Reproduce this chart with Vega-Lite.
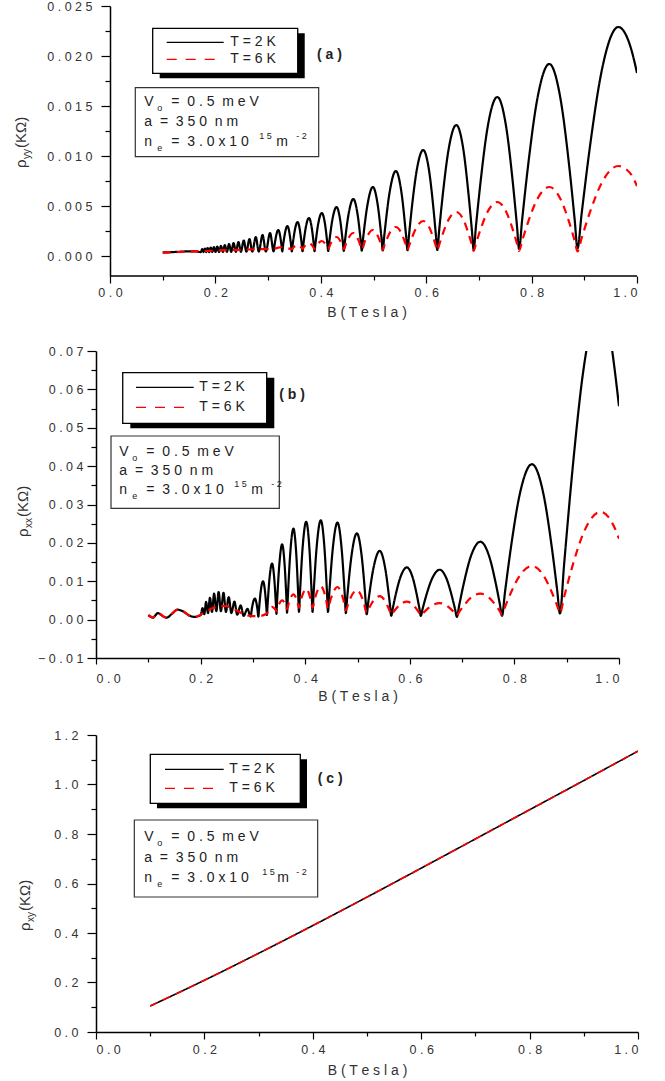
{
"$schema": "https://vega.github.io/schema/vega-lite/v6.json",
"padding": {"left": 13, "top": 0, "right": 4, "bottom": 0},
"spacing": 25,
"config": {
  "font": "Liberation Sans",
  "view": {"stroke": null},
  "axis": {"grid": false, "labelOverlap": false, "tickCount": 50, "domainColor": "#000", "domainWidth": 1.5, "tickColor": "#000", "tickWidth": 1.2, "labelFont": "Liberation Sans", "labelFontSize": 12.5, "labelColor": "#333", "titleFont": "Liberation Sans", "titleFontSize": 14, "titleFontWeight": "normal", "titleColor": "#333"},
  "text": {"font": "Liberation Sans", "color": "#222"}
},
"datasets": {
"a": [
{"T":"2K","B":0.1000,"r":0.00035},{"T":"2K","B":0.1150,"r":0.00038},{"T":"2K","B":0.1300,"r":0.00042},{"T":"2K","B":0.1450,"r":0.00046},{"T":"2K","B":0.1600,"r":0.00047},
{"T":"2K","B":0.1725,"r":0.00039},{"T":"2K","B":0.1749,"r":0.00070},{"T":"2K","B":0.1774,"r":0.00039},{"T":"2K","B":0.1799,"r":0.00075},{"T":"2K","B":0.1826,"r":0.00039},{"T":"2K","B":0.1853,"r":0.00080},{"T":"2K","B":0.1882,"r":0.00039},{"T":"2K","B":0.1911,"r":0.00085},{"T":"2K","B":0.1941,"r":0.00040},{"T":"2K","B":0.1972,"r":0.00090},{"T":"2K","B":0.2003,"r":0.00040},{"T":"2K","B":0.2036,"r":0.00095},{"T":"2K","B":0.2070,"r":0.00040},{"T":"2K","B":0.2105,"r":0.00102},{"T":"2K","B":0.2141,"r":0.00041},{"T":"2K","B":0.2179,"r":0.00110},{"T":"2K","B":0.2218,"r":0.00041},{"T":"2K","B":0.2259,"r":0.00120},{"T":"2K","B":0.2300,"r":0.00042},{"T":"2K","B":0.2345,"r":0.00130},{"T":"2K","B":0.2388,"r":0.00042},{"T":"2K","B":0.2438,"r":0.00140},{"T":"2K","B":0.2484,"r":0.00042},{"T":"2K","B":0.2538,"r":0.00155},{"T":"2K","B":0.2588,"r":0.00043},{"T":"2K","B":0.2647,"r":0.00170},{"T":"2K","B":0.2700,"r":0.00044},{"T":"2K","B":0.2766,"r":0.00190},{"T":"2K","B":0.2823,"r":0.00044},{"T":"2K","B":0.2895,"r":0.00210},{"T":"2K","B":0.2957,"r":0.00045},{"T":"2K","B":0.3037,"r":0.00230},{"T":"2K","B":0.3105,"r":0.00046},
{"T":"2K","B":0.3123,"r":0.00112},{"T":"2K","B":0.3193,"r":0.0026},{"T":"2K","B":0.3253,"r":0.00112},{"T":"2K","B":0.3268,"r":0.00046},
{"T":"2K","B":0.3288,"r":0.00124},{"T":"2K","B":0.3366,"r":0.0030},{"T":"2K","B":0.3433,"r":0.00124},{"T":"2K","B":0.3450,"r":0.00047},
{"T":"2K","B":0.3472,"r":0.00138},{"T":"2K","B":0.3559,"r":0.0034},{"T":"2K","B":0.3634,"r":0.00138},{"T":"2K","B":0.3653,"r":0.00048},
{"T":"2K","B":0.3668,"r":0.00111},{"T":"2K","B":0.3714,"r":0.00283},{"T":"2K","B":0.3775,"r":0.0038},{"T":"2K","B":0.3828,"r":0.00283},{"T":"2K","B":0.3868,"r":0.00111},{"T":"2K","B":0.3881,"r":0.00049},
{"T":"2K","B":0.3898,"r":0.00121},{"T":"2K","B":0.3950,"r":0.00319},{"T":"2K","B":0.4019,"r":0.0043},{"T":"2K","B":0.4080,"r":0.00319},{"T":"2K","B":0.4125,"r":0.00121},{"T":"2K","B":0.4140,"r":0.0005},
{"T":"2K","B":0.4159,"r":0.00133},{"T":"2K","B":0.4219,"r":0.00361},{"T":"2K","B":0.4298,"r":0.0049},{"T":"2K","B":0.4367,"r":0.00361},{"T":"2K","B":0.4419,"r":0.00133},{"T":"2K","B":0.4436,"r":0.00052},
{"T":"2K","B":0.4458,"r":0.0015},{"T":"2K","B":0.4527,"r":0.00419},{"T":"2K","B":0.4617,"r":0.0057},{"T":"2K","B":0.4697,"r":0.00419},{"T":"2K","B":0.4758,"r":0.0015},{"T":"2K","B":0.4777,"r":0.00054},
{"T":"2K","B":0.4802,"r":0.00174},{"T":"2K","B":0.4883,"r":0.00504},{"T":"2K","B":0.4988,"r":0.0069},{"T":"2K","B":0.5082,"r":0.00504},{"T":"2K","B":0.5153,"r":0.00174},{"T":"2K","B":0.5175,"r":0.00056},
{"T":"2K","B":0.5205,"r":0.00205},{"T":"2K","B":0.5300,"r":0.00618},{"T":"2K","B":0.5424,"r":0.0085},{"T":"2K","B":0.5535,"r":0.00618},{"T":"2K","B":0.5618,"r":0.00205},{"T":"2K","B":0.5645,"r":0.00058},
{"T":"2K","B":0.5675,"r":0.00216},{"T":"2K","B":0.5734,"r":0.00514},{"T":"2K","B":0.5824,"r":0.00869},{"T":"2K","B":0.5943,"r":0.0106},{"T":"2K","B":0.6050,"r":0.00869},{"T":"2K","B":0.6130,"r":0.00514},{"T":"2K","B":0.6183,"r":0.00216},{"T":"2K","B":0.6210,"r":0.0006},
{"T":"2K","B":0.6246,"r":0.00257},{"T":"2K","B":0.6318,"r":0.00629},{"T":"2K","B":0.6427,"r":0.01072},{"T":"2K","B":0.6571,"r":0.0131},{"T":"2K","B":0.6703,"r":0.01072},{"T":"2K","B":0.6801,"r":0.00629},{"T":"2K","B":0.6867,"r":0.00257},{"T":"2K","B":0.6900,"r":0.00065},
{"T":"2K","B":0.6945,"r":0.00304},{"T":"2K","B":0.7035,"r":0.00758},{"T":"2K","B":0.7169,"r":0.01299},{"T":"2K","B":0.7349,"r":0.0159},{"T":"2K","B":0.7515,"r":0.01299},{"T":"2K","B":0.7639,"r":0.00758},{"T":"2K","B":0.7722,"r":0.00304},{"T":"2K","B":0.7763,"r":0.0007},
{"T":"2K","B":0.7820,"r":0.0036},{"T":"2K","B":0.7935,"r":0.00911},{"T":"2K","B":0.8107,"r":0.01567},{"T":"2K","B":0.8336,"r":0.0192},{"T":"2K","B":0.8550,"r":0.01567},{"T":"2K","B":0.8711,"r":0.00911},{"T":"2K","B":0.8818,"r":0.0036},{"T":"2K","B":0.8871,"r":0.00075},
{"T":"2K","B":0.8949,"r":0.00421},{"T":"2K","B":0.9104,"r":0.01081},{"T":"2K","B":0.9336,"r":0.01867},{"T":"2K","B":0.9646,"r":0.0229},{"T":"2K","B":0.9800,"r":0.0220},{"T":"2K","B":0.9900,"r":0.0205},{"T":"2K","B":1.0000,"r":0.0183},
{"T":"6K","B":0.1000,"r":0.00033},{"T":"6K","B":0.1300,"r":0.00040},{"T":"6K","B":0.1600,"r":0.00046},{"T":"6K","B":0.1900,"r":0.00052},{"T":"6K","B":0.2200,"r":0.00058},{"T":"6K","B":0.2500,"r":0.00063},{"T":"6K","B":0.2800,"r":0.00068},{"T":"6K","B":0.3100,"r":0.00072},{"T":"6K","B":0.3268,"r":0.0009},{"T":"6K","B":0.3450,"r":0.0007},
{"T":"6K","B":0.3483,"r":0.00088},{"T":"6K","B":0.3559,"r":0.0011},{"T":"6K","B":0.3625,"r":0.00088},{"T":"6K","B":0.3653,"r":0.0007},
{"T":"6K","B":0.3690,"r":0.00097},{"T":"6K","B":0.3775,"r":0.0013},{"T":"6K","B":0.3849,"r":0.00097},{"T":"6K","B":0.3881,"r":0.0007},
{"T":"6K","B":0.3922,"r":0.00106},{"T":"6K","B":0.4019,"r":0.0015},{"T":"6K","B":0.4104,"r":0.00106},{"T":"6K","B":0.4140,"r":0.0007},
{"T":"6K","B":0.4187,"r":0.00124},{"T":"6K","B":0.4298,"r":0.0019},{"T":"6K","B":0.4395,"r":0.00124},{"T":"6K","B":0.4436,"r":0.0007},
{"T":"6K","B":0.4490,"r":0.0014},{"T":"6K","B":0.4617,"r":0.0023},{"T":"6K","B":0.4729,"r":0.0014},{"T":"6K","B":0.4777,"r":0.00065},
{"T":"6K","B":0.4840,"r":0.00151},{"T":"6K","B":0.4988,"r":0.0026},{"T":"6K","B":0.5119,"r":0.00151},{"T":"6K","B":0.5175,"r":0.0006},
{"T":"6K","B":0.5200,"r":0.00096},{"T":"6K","B":0.5250,"r":0.00164},{"T":"6K","B":0.5324,"r":0.00246},{"T":"6K","B":0.5424,"r":0.0029},{"T":"6K","B":0.5512,"r":0.00246},{"T":"6K","B":0.5579,"r":0.00164},{"T":"6K","B":0.5623,"r":0.00096},{"T":"6K","B":0.5645,"r":0.0006},
{"T":"6K","B":0.5675,"r":0.00101},{"T":"6K","B":0.5734,"r":0.00189},{"T":"6K","B":0.5824,"r":0.00294},{"T":"6K","B":0.5943,"r":0.0035},{"T":"6K","B":0.6050,"r":0.00294},{"T":"6K","B":0.6130,"r":0.00189},{"T":"6K","B":0.6183,"r":0.00101},{"T":"6K","B":0.6210,"r":0.00055},
{"T":"6K","B":0.6246,"r":0.00111},{"T":"6K","B":0.6318,"r":0.00227},{"T":"6K","B":0.6427,"r":0.00366},{"T":"6K","B":0.6571,"r":0.0044},{"T":"6K","B":0.6703,"r":0.00366},{"T":"6K","B":0.6801,"r":0.00227},{"T":"6K","B":0.6867,"r":0.00111},{"T":"6K","B":0.6900,"r":0.0005},
{"T":"6K","B":0.6945,"r":0.00126},{"T":"6K","B":0.7035,"r":0.00272},{"T":"6K","B":0.7169,"r":0.00446},{"T":"6K","B":0.7349,"r":0.0054},{"T":"6K","B":0.7515,"r":0.00446},{"T":"6K","B":0.7639,"r":0.00272},{"T":"6K","B":0.7722,"r":0.00126},{"T":"6K","B":0.7763,"r":0.0005},
{"T":"6K","B":0.7820,"r":0.0015},{"T":"6K","B":0.7935,"r":0.00341},{"T":"6K","B":0.8107,"r":0.00568},{"T":"6K","B":0.8336,"r":0.0069},{"T":"6K","B":0.8550,"r":0.00568},{"T":"6K","B":0.8711,"r":0.00341},{"T":"6K","B":0.8818,"r":0.0015},{"T":"6K","B":0.8871,"r":0.00045},
{"T":"6K","B":0.8949,"r":0.00178},{"T":"6K","B":0.9104,"r":0.00433},{"T":"6K","B":0.9336,"r":0.00737},{"T":"6K","B":0.9646,"r":0.0090},{"T":"6K","B":0.9800,"r":0.00865},{"T":"6K","B":0.9900,"r":0.00807},{"T":"6K","B":1.0000,"r":0.0070}
],
"b": [
{"T":"2K","B":0.1000,"r":0.0012},{"T":"2K","B":0.1040,"r":0.0008},{"T":"2K","B":0.1090,"r":0.0005},{"T":"2K","B":0.1135,"r":0.0011},{"T":"2K","B":0.1180,"r":0.0017},{"T":"2K","B":0.1230,"r":0.0014},{"T":"2K","B":0.1290,"r":0.0008},{"T":"2K","B":0.1350,"r":0.0005},{"T":"2K","B":0.1450,"r":0.0015},{"T":"2K","B":0.1560,"r":0.0026},{"T":"2K","B":0.1670,"r":0.0021},{"T":"2K","B":0.1780,"r":0.0011},{"T":"2K","B":0.1890,"r":0.0007},{"T":"2K","B":0.1950,"r":0.0009},
{"T":"2K","B":0.2003,"r":0.0012},{"T":"2K","B":0.2036,"r":0.0030},{"T":"2K","B":0.2070,"r":0.0014},{"T":"2K","B":0.2105,"r":0.0046},{"T":"2K","B":0.2141,"r":0.0017},{"T":"2K","B":0.2179,"r":0.0057},{"T":"2K","B":0.2218,"r":0.0020},{"T":"2K","B":0.2259,"r":0.0068},{"T":"2K","B":0.2300,"r":0.0022},{"T":"2K","B":0.2345,"r":0.0072},{"T":"2K","B":0.2388,"r":0.0022},{"T":"2K","B":0.2438,"r":0.0070},{"T":"2K","B":0.2484,"r":0.0020},{"T":"2K","B":0.2538,"r":0.0059},{"T":"2K","B":0.2588,"r":0.0017},{"T":"2K","B":0.2647,"r":0.0047},{"T":"2K","B":0.2700,"r":0.0013},{"T":"2K","B":0.2766,"r":0.0037},{"T":"2K","B":0.2823,"r":0.0010},{"T":"2K","B":0.2895,"r":0.0028},{"T":"2K","B":0.2957,"r":0.0008},
{"T":"2K","B":0.2981,"r":0.00293},{"T":"2K","B":0.3037,"r":0.0055},{"T":"2K","B":0.3085,"r":0.00293},{"T":"2K","B":0.3105,"r":0.0008},
{"T":"2K","B":0.3116,"r":0.00252},{"T":"2K","B":0.3149,"r":0.0073},{"T":"2K","B":0.3193,"r":0.0100},{"T":"2K","B":0.3231,"r":0.00742},{"T":"2K","B":0.3259,"r":0.00285},{"T":"2K","B":0.3268,"r":0.0012},
{"T":"2K","B":0.3280,"r":0.00371},{"T":"2K","B":0.3317,"r":0.01067},{"T":"2K","B":0.3366,"r":0.0146},{"T":"2K","B":0.3408,"r":0.01076},{"T":"2K","B":0.3440,"r":0.00395},{"T":"2K","B":0.3450,"r":0.0015},
{"T":"2K","B":0.3463,"r":0.00488},{"T":"2K","B":0.3505,"r":0.0143},{"T":"2K","B":0.3559,"r":0.0196},{"T":"2K","B":0.3606,"r":0.01438},{"T":"2K","B":0.3642,"r":0.00513},{"T":"2K","B":0.3653,"r":0.0018},
{"T":"2K","B":0.3668,"r":0.0059},{"T":"2K","B":0.3714,"r":0.01728},{"T":"2K","B":0.3775,"r":0.0237},{"T":"2K","B":0.3828,"r":0.01734},{"T":"2K","B":0.3868,"r":0.00606},{"T":"2K","B":0.3881,"r":0.0020},
{"T":"2K","B":0.3898,"r":0.0064},{"T":"2K","B":0.3950,"r":0.01861},{"T":"2K","B":0.4019,"r":0.0255},{"T":"2K","B":0.4080,"r":0.01861},{"T":"2K","B":0.4125,"r":0.0064},{"T":"2K","B":0.4140,"r":0.0020},
{"T":"2K","B":0.4159,"r":0.00647},{"T":"2K","B":0.4219,"r":0.0189},{"T":"2K","B":0.4298,"r":0.0259},{"T":"2K","B":0.4367,"r":0.0189},{"T":"2K","B":0.4419,"r":0.00647},{"T":"2K","B":0.4436,"r":0.0020},
{"T":"2K","B":0.4458,"r":0.00636},{"T":"2K","B":0.4527,"r":0.01847},{"T":"2K","B":0.4617,"r":0.0253},{"T":"2K","B":0.4697,"r":0.01839},{"T":"2K","B":0.4758,"r":0.00611},{"T":"2K","B":0.4777,"r":0.0017},
{"T":"2K","B":0.4802,"r":0.00559},{"T":"2K","B":0.4883,"r":0.01641},{"T":"2K","B":0.4988,"r":0.0225},{"T":"2K","B":0.5082,"r":0.01632},{"T":"2K","B":0.5153,"r":0.00535},{"T":"2K","B":0.5175,"r":0.0014},
{"T":"2K","B":0.5205,"r":0.00449},{"T":"2K","B":0.5300,"r":0.01307},{"T":"2K","B":0.5424,"r":0.0179},{"T":"2K","B":0.5535,"r":0.01295},{"T":"2K","B":0.5618,"r":0.00416},{"T":"2K","B":0.5645,"r":0.0010},
{"T":"2K","B":0.5675,"r":0.00297},{"T":"2K","B":0.5734,"r":0.00672},{"T":"2K","B":0.5824,"r":0.01119},{"T":"2K","B":0.5943,"r":0.0136},{"T":"2K","B":0.6050,"r":0.01119},{"T":"2K","B":0.6130,"r":0.00672},{"T":"2K","B":0.6183,"r":0.00297},{"T":"2K","B":0.6210,"r":0.0010},
{"T":"2K","B":0.6246,"r":0.00287},{"T":"2K","B":0.6318,"r":0.00645},{"T":"2K","B":0.6427,"r":0.01071},{"T":"2K","B":0.6571,"r":0.0130},{"T":"2K","B":0.6703,"r":0.01065},{"T":"2K","B":0.6801,"r":0.00628},{"T":"2K","B":0.6867,"r":0.00262},{"T":"2K","B":0.6900,"r":0.0007},
{"T":"2K","B":0.6945,"r":0.00376},{"T":"2K","B":0.7035,"r":0.0096},{"T":"2K","B":0.7169,"r":0.01656},{"T":"2K","B":0.7349,"r":0.0203},{"T":"2K","B":0.7515,"r":0.01661},{"T":"2K","B":0.7639,"r":0.00976},{"T":"2K","B":0.7722,"r":0.00401},{"T":"2K","B":0.7763,"r":0.0010},
{"T":"2K","B":0.7820,"r":0.00716},{"T":"2K","B":0.7935,"r":0.01893},{"T":"2K","B":0.8107,"r":0.03296},{"T":"2K","B":0.8336,"r":0.0405},{"T":"2K","B":0.8550,"r":0.03307},{"T":"2K","B":0.8711,"r":0.01926},{"T":"2K","B":0.8818,"r":0.00767},{"T":"2K","B":0.8871,"r":0.0016},
{"T":"2K","B":0.8949,"r":0.01414},{"T":"2K","B":0.9104,"r":0.0381},{"T":"2K","B":0.9336,"r":0.0666},{"T":"2K","B":0.9646,"r":0.082},{"T":"2K","B":0.9800,"r":0.0764},{"T":"2K","B":0.9900,"r":0.0670},{"T":"2K","B":1.0000,"r":0.0556},
{"T":"6K","B":0.1000,"r":0.0012},{"T":"6K","B":0.1040,"r":0.0008},{"T":"6K","B":0.1090,"r":0.0005},{"T":"6K","B":0.1135,"r":0.0011},{"T":"6K","B":0.1180,"r":0.0017},{"T":"6K","B":0.1230,"r":0.0014},{"T":"6K","B":0.1290,"r":0.0008},{"T":"6K","B":0.1350,"r":0.0005},{"T":"6K","B":0.1450,"r":0.0015},{"T":"6K","B":0.1560,"r":0.0026},{"T":"6K","B":0.1670,"r":0.0021},{"T":"6K","B":0.1780,"r":0.0011},{"T":"6K","B":0.1890,"r":0.0007},{"T":"6K","B":0.1950,"r":0.0009},
{"T":"6K","B":0.2000,"r":0.0013},{"T":"6K","B":0.2100,"r":0.0020},{"T":"6K","B":0.2200,"r":0.0028},{"T":"6K","B":0.2300,"r":0.0033},{"T":"6K","B":0.2400,"r":0.0036},{"T":"6K","B":0.2500,"r":0.0035},{"T":"6K","B":0.2600,"r":0.0030},{"T":"6K","B":0.2700,"r":0.0023},{"T":"6K","B":0.2800,"r":0.0016},{"T":"6K","B":0.2900,"r":0.0011},{"T":"6K","B":0.3000,"r":0.0009},{"T":"6K","B":0.3100,"r":0.0009},{"T":"6K","B":0.3268,"r":0.0016},
{"T":"6K","B":0.3297,"r":0.00237},{"T":"6K","B":0.3366,"r":0.0033},{"T":"6K","B":0.3425,"r":0.0027},{"T":"6K","B":0.3450,"r":0.0022},
{"T":"6K","B":0.3483,"r":0.00347},{"T":"6K","B":0.3559,"r":0.0050},{"T":"6K","B":0.3625,"r":0.0038},{"T":"6K","B":0.3653,"r":0.0028},
{"T":"6K","B":0.3690,"r":0.00453},{"T":"6K","B":0.3775,"r":0.0066},{"T":"6K","B":0.3849,"r":0.00469},{"T":"6K","B":0.3881,"r":0.0031},
{"T":"6K","B":0.3922,"r":0.00532},{"T":"6K","B":0.4019,"r":0.0080},{"T":"6K","B":0.4104,"r":0.00532},{"T":"6K","B":0.4140,"r":0.0031},
{"T":"6K","B":0.4187,"r":0.00564},{"T":"6K","B":0.4298,"r":0.0087},{"T":"6K","B":0.4395,"r":0.00553},{"T":"6K","B":0.4436,"r":0.0029},
{"T":"6K","B":0.4490,"r":0.00544},{"T":"6K","B":0.4617,"r":0.0085},{"T":"6K","B":0.4729,"r":0.00522},{"T":"6K","B":0.4777,"r":0.0025},
{"T":"6K","B":0.4840,"r":0.00486},{"T":"6K","B":0.4988,"r":0.0077},{"T":"6K","B":0.5119,"r":0.00448},{"T":"6K","B":0.5175,"r":0.0018},
{"T":"6K","B":0.5200,"r":0.00247},{"T":"6K","B":0.5250,"r":0.00375},{"T":"6K","B":0.5324,"r":0.00528},{"T":"6K","B":0.5424,"r":0.0061},{"T":"6K","B":0.5512,"r":0.00516},{"T":"6K","B":0.5579,"r":0.00342},{"T":"6K","B":0.5623,"r":0.00196},{"T":"6K","B":0.5645,"r":0.0012},
{"T":"6K","B":0.5675,"r":0.00175},{"T":"6K","B":0.5734,"r":0.00279},{"T":"6K","B":0.5824,"r":0.00403},{"T":"6K","B":0.5943,"r":0.0047},{"T":"6K","B":0.6050,"r":0.00401},{"T":"6K","B":0.6130,"r":0.00273},{"T":"6K","B":0.6183,"r":0.00166},{"T":"6K","B":0.6210,"r":0.0011},
{"T":"6K","B":0.6246,"r":0.0016},{"T":"6K","B":0.6318,"r":0.00255},{"T":"6K","B":0.6427,"r":0.00369},{"T":"6K","B":0.6571,"r":0.0043},{"T":"6K","B":0.6703,"r":0.00369},{"T":"6K","B":0.6801,"r":0.00255},{"T":"6K","B":0.6867,"r":0.0016},{"T":"6K","B":0.6900,"r":0.0011},
{"T":"6K","B":0.6945,"r":0.00199},{"T":"6K","B":0.7035,"r":0.00369},{"T":"6K","B":0.7169,"r":0.00571},{"T":"6K","B":0.7349,"r":0.0068},{"T":"6K","B":0.7515,"r":0.00575},{"T":"6K","B":0.7639,"r":0.0038},{"T":"6K","B":0.7722,"r":0.00216},{"T":"6K","B":0.7763,"r":0.0013},
{"T":"6K","B":0.7820,"r":0.00328},{"T":"6K","B":0.7935,"r":0.00707},{"T":"6K","B":0.8107,"r":0.01157},{"T":"6K","B":0.8336,"r":0.0140},{"T":"6K","B":0.8550,"r":0.01165},{"T":"6K","B":0.8711,"r":0.00728},{"T":"6K","B":0.8818,"r":0.00362},{"T":"6K","B":0.8871,"r":0.0017},
{"T":"6K","B":0.8949,"r":0.00582},{"T":"6K","B":0.9104,"r":0.01369},{"T":"6K","B":0.9336,"r":0.02306},{"T":"6K","B":0.9646,"r":0.0281},{"T":"6K","B":0.9800,"r":0.0267},{"T":"6K","B":0.9900,"r":0.0244},{"T":"6K","B":1.0000,"r":0.0211}
],
"c": [
{"T":"2K","B":0.1,"r":0.105},{"T":"2K","B":0.2,"r":0.209},{"T":"2K","B":0.3,"r":0.318},{"T":"2K","B":0.4,"r":0.430},{"T":"2K","B":0.5,"r":0.545},{"T":"2K","B":0.6,"r":0.662},{"T":"2K","B":0.7,"r":0.780},{"T":"2K","B":0.8,"r":0.898},{"T":"2K","B":0.9,"r":1.016},{"T":"2K","B":1.0,"r":1.135},
{"T":"6K","B":0.1,"r":0.105},{"T":"6K","B":0.2,"r":0.209},{"T":"6K","B":0.3,"r":0.318},{"T":"6K","B":0.4,"r":0.430},{"T":"6K","B":0.5,"r":0.545},{"T":"6K","B":0.6,"r":0.662},{"T":"6K","B":0.7,"r":0.780},{"T":"6K","B":0.8,"r":0.898},{"T":"6K","B":0.9,"r":1.016},{"T":"6K","B":1.0,"r":1.135}
]
},
"vconcat": [
{
 "width": 541, "height": 270,
 "data": {"values": [{}]},
 "resolve": {"axis": {"x": "independent", "y": "independent"}},
 "layer": [
  {"mark": {"type": "rect", "fill": "#000"},
   "encoding": {
    "x": {"datum": 0.0943, "type": "quantitative", "scale": {"domain": [-0.02657, 1], "nice": false, "zero": false}, "axis": {"orient": "bottom", "values": [0.1, 0.3, 0.5, 0.7, 0.9], "tickCount": 50, "labels": false, "domain": false, "tickSize": 4, "title": null}},
    "x2": {"datum": 0.3695},
    "y": {"datum": 0.02227, "type": "quantitative", "scale": {"domain": [-0.002, 0.025], "nice": false, "zero": false}, "axis": {"orient": "left", "offset": -14, "values": [0.0025, 0.0075, 0.0125, 0.0175, 0.0225], "tickCount": 50, "labels": false, "domain": false, "tickSize": 5, "title": null}},
    "y2": {"datum": 0.01777}}},
  {"layer": [
   {"data": {"name": "a"},
    "mark": {"type": "line", "interpolate": "monotone", "strokeWidth": 2.2, "clip": true},
    "encoding": {
     "x": {"field": "B", "type": "quantitative", "scale": {"domain": [-0.02657, 1], "nice": false, "zero": false}, "axis": {"orient": "bottom", "values": [0, 0.2, 0.4, 0.6, 0.8, 1], "tickCount": 50, "format": ".1f", "labelExpr": "join(split(datum.label, ''), ' ')", "labelOverlap": false, "domain": false, "tickSize": 7, "labelPadding": 3, "title": "B ( T e s l a )", "titlePadding": 7}},
     "y": {"field": "r", "type": "quantitative", "scale": {"domain": [-0.002, 0.025], "nice": false, "zero": false}, "axis": {"orient": "left", "offset": -14, "values": [0, 0.005, 0.01, 0.015, 0.02, 0.025], "tickCount": 50, "format": ".3f", "labelExpr": "join(split(datum.label, ''), ' ')", "labelOverlap": false, "tickSize": 9, "labelPadding": 9, "title": null}},
     "color": {"field": "T", "type": "nominal", "scale": {"domain": ["2K", "6K"], "range": ["#000000", "#ff0000"]}, "legend": null},
     "strokeDash": {"field": "T", "type": "nominal", "scale": {"domain": ["2K", "6K"], "range": [[1, 0], [8, 6]]}, "legend": null}}},
   {"mark": {"type": "rule", "color": "#000", "strokeWidth": 1.5}, "encoding": {"x": {"datum": 0}, "x2": {"datum": 1}, "y": {"datum": -0.002}}},
   {"mark": {"type": "rect", "fill": "#fff", "stroke": "#000", "strokeWidth": 1.3}, "encoding": {"x": {"datum": 0.081}, "x2": {"datum": 0.3562}, "y": {"datum": 0.02277}, "y2": {"datum": 0.01827}}},
   {"mark": {"type": "rule", "color": "#000", "strokeWidth": 1.3}, "encoding": {"x": {"datum": 0.1076}, "x2": {"datum": 0.2157}, "y": {"datum": 0.02137}}},
   {"mark": {"type": "rule", "color": "#ff0000", "strokeWidth": 1.3, "strokeDash": [10, 9]}, "encoding": {"x": {"datum": 0.1076}, "x2": {"datum": 0.205}, "y": {"datum": 0.01967}}},
   {"mark": {"type": "text", "text": "T\u00a0=\u00a02\u00a0K", "align": "left", "baseline": "middle", "fontSize": 14}, "encoding": {"x": {"datum": 0.2283}, "y": {"datum": 0.02137}}},
   {"mark": {"type": "text", "text": "T\u00a0=\u00a06\u00a0K", "align": "left", "baseline": "middle", "fontSize": 14}, "encoding": {"x": {"datum": 0.2283}, "y": {"datum": 0.01967}}},
   {"mark": {"type": "text", "text": "(\u00a0a\u00a0)", "align": "left", "baseline": "middle", "fontSize": 14, "fontWeight": "bold"}, "encoding": {"x": {"datum": 0.3928}, "y": {"datum": 0.0201}}},
   {"mark": {"type": "rect", "fill": "#fff", "stroke": "#333", "strokeWidth": 1.2}, "encoding": {"x": {"datum": 0.048}, "x2": {"datum": 0.396}, "y": {"datum": 0.01683}, "y2": {"datum": 0.00993}}},
   {"mark": {"type": "text", "text": "V", "align": "left", "baseline": "middle", "fontSize": 14}, "encoding": {"x": {"datum": 0.0651}, "y": {"datum": 0.01543}}},
   {"mark": {"type": "text", "text": "o", "align": "left", "baseline": "middle", "fontSize": 9, "dx": 13, "dy": 6}, "encoding": {"x": {"datum": 0.0651}, "y": {"datum": 0.01543}}},
   {"mark": {"type": "text", "text": "=\u00a0\u00a00\u00a0.\u00a05\u00a0\u00a0m\u00a0e\u00a0V", "align": "left", "baseline": "middle", "fontSize": 14, "dx": 27}, "encoding": {"x": {"datum": 0.0651}, "y": {"datum": 0.01543}}},
   {"mark": {"type": "text", "text": "a\u00a0\u00a0=\u00a0\u00a03\u00a05\u00a00\u00a0\u00a0n\u00a0m", "align": "left", "baseline": "middle", "fontSize": 14}, "encoding": {"x": {"datum": 0.0651}, "y": {"datum": 0.01343}}},
   {"mark": {"type": "text", "text": "n", "align": "left", "baseline": "middle", "fontSize": 14}, "encoding": {"x": {"datum": 0.0651}, "y": {"datum": 0.01143}}},
   {"mark": {"type": "text", "text": "e", "align": "left", "baseline": "middle", "fontSize": 9, "dx": 13, "dy": 6}, "encoding": {"x": {"datum": 0.0651}, "y": {"datum": 0.01143}}},
   {"mark": {"type": "text", "text": "=\u00a0\u00a03\u00a0.\u00a00\u00a0x\u00a01\u00a00", "align": "left", "baseline": "middle", "fontSize": 14, "dx": 27}, "encoding": {"x": {"datum": 0.0651}, "y": {"datum": 0.01143}}},
   {"mark": {"type": "text", "text": "1\u00a05", "align": "left", "baseline": "middle", "fontSize": 9, "dx": 115, "dy": -6}, "encoding": {"x": {"datum": 0.0651}, "y": {"datum": 0.01143}}},
   {"mark": {"type": "text", "text": "m", "align": "left", "baseline": "middle", "fontSize": 14, "dx": 132}, "encoding": {"x": {"datum": 0.0651}, "y": {"datum": 0.01143}}},
   {"mark": {"type": "text", "text": "-\u00a02", "align": "left", "baseline": "middle", "fontSize": 9, "dx": 152, "dy": -6}, "encoding": {"x": {"datum": 0.0651}, "y": {"datum": 0.01143}}},
   {"mark": {"type": "text", "text": "ρ", "angle": 270, "align": "left", "baseline": "alphabetic", "fontSize": 15, "color": "#333"}, "encoding": {"x": {"datum": -0.1600}, "y": {"datum": 0.0088}}},
   {"mark": {"type": "text", "text": "yy", "angle": 270, "align": "left", "baseline": "alphabetic", "fontSize": 10, "dx": 9, "dy": 4, "color": "#333"}, "encoding": {"x": {"datum": -0.1600}, "y": {"datum": 0.0088}}},
   {"mark": {"type": "text", "text": "(KΩ)", "angle": 270, "align": "left", "baseline": "alphabetic", "fontSize": 15, "dx": 20, "color": "#333"}, "encoding": {"x": {"datum": -0.1600}, "y": {"datum": 0.0088}}}
  ]}
 ]
},
{
 "width": 523, "height": 307,
 "data": {"values": [{}]},
 "resolve": {"axis": {"x": "independent", "y": "independent"}},
 "layer": [
  {"mark": {"type": "rect", "fill": "#000"},
   "encoding": {
    "x": {"datum": 0.0656, "type": "quantitative", "scale": {"domain": [0, 1], "nice": false, "zero": false}, "axis": {"orient": "bottom", "values": [0.1, 0.3, 0.5, 0.7, 0.9], "tickCount": 50, "labels": false, "domain": false, "tickSize": 4, "title": null}},
    "x2": {"datum": 0.3409},
    "y": {"datum": 0.06304, "type": "quantitative", "scale": {"domain": [-0.01, 0.07], "nice": false, "zero": false}, "axis": {"orient": "left", "values": [-0.005, 0.005, 0.015, 0.025, 0.035, 0.045, 0.055, 0.065], "tickCount": 50, "labels": false, "domain": false, "tickSize": 5, "title": null}},
    "y2": {"datum": 0.04986}}},
  {"layer": [
   {"data": {"name": "b"},
    "mark": {"type": "line", "interpolate": "monotone", "strokeWidth": 2.2, "clip": true},
    "encoding": {
     "x": {"field": "B", "type": "quantitative", "scale": {"domain": [0, 1], "nice": false, "zero": false}, "axis": {"orient": "bottom", "values": [0, 0.2, 0.4, 0.6, 0.8, 1], "tickCount": 50, "format": ".1f", "labelExpr": "join(split(datum.label, ''), ' ')", "labelOverlap": false, "tickSize": 6, "labelPadding": 8, "title": "B ( T e s l a )", "titlePadding": 5}},
     "y": {"field": "r", "type": "quantitative", "scale": {"domain": [-0.01, 0.07], "nice": false, "zero": false}, "axis": {"orient": "left", "values": [-0.01, 0, 0.01, 0.02, 0.03, 0.04, 0.05, 0.06, 0.07], "tickCount": 50, "format": ".2f", "labelExpr": "join(split(datum.label, ''), ' ')", "labelOverlap": false, "tickSize": 9, "labelPadding": 4, "title": null}},
     "color": {"field": "T", "type": "nominal", "scale": {"domain": ["2K", "6K"], "range": ["#000000", "#ff0000"]}, "legend": null},
     "strokeDash": {"field": "T", "type": "nominal", "scale": {"domain": ["2K", "6K"], "range": [[1, 0], [8, 6]]}, "legend": null}}},
   {"mark": {"type": "rect", "fill": "#fff", "stroke": "#000", "strokeWidth": 1.3}, "encoding": {"x": {"datum": 0.0511}, "x2": {"datum": 0.3264}, "y": {"datum": 0.06435}, "y2": {"datum": 0.05116}}},
   {"mark": {"type": "rule", "color": "#000", "strokeWidth": 1.3}, "encoding": {"x": {"datum": 0.0765}, "x2": {"datum": 0.1868}, "y": {"datum": 0.06054}}},
   {"mark": {"type": "rule", "color": "#ff0000", "strokeWidth": 1.3, "strokeDash": [10, 9]}, "encoding": {"x": {"datum": 0.0765}, "x2": {"datum": 0.1721}, "y": {"datum": 0.05533}}},
   {"mark": {"type": "text", "text": "T\u00a0=\u00a02\u00a0K", "align": "left", "baseline": "middle", "fontSize": 14}, "encoding": {"x": {"datum": 0.1975}, "y": {"datum": 0.06054}}},
   {"mark": {"type": "text", "text": "T\u00a0=\u00a06\u00a0K", "align": "left", "baseline": "middle", "fontSize": 14}, "encoding": {"x": {"datum": 0.1975}, "y": {"datum": 0.05533}}},
   {"mark": {"type": "text", "text": "(\u00a0b\u00a0)", "align": "left", "baseline": "middle", "fontSize": 14, "fontWeight": "bold"}, "encoding": {"x": {"datum": 0.3505}, "y": {"datum": 0.05853}}},
   {"mark": {"type": "rect", "fill": "#fff", "stroke": "#333", "strokeWidth": 1.2}, "encoding": {"x": {"datum": 0.0287}, "x2": {"datum": 0.3505}, "y": {"datum": 0.04785}, "y2": {"datum": 0.02901}}},
   {"mark": {"type": "text", "text": "V", "align": "left", "baseline": "middle", "fontSize": 14}, "encoding": {"x": {"datum": 0.0446}, "y": {"datum": 0.04376}}},
   {"mark": {"type": "text", "text": "o", "align": "left", "baseline": "middle", "fontSize": 9, "dx": 13, "dy": 6}, "encoding": {"x": {"datum": 0.0446}, "y": {"datum": 0.04376}}},
   {"mark": {"type": "text", "text": "=\u00a0\u00a00\u00a0.\u00a05\u00a0\u00a0m\u00a0e\u00a0V", "align": "left", "baseline": "middle", "fontSize": 14, "dx": 27}, "encoding": {"x": {"datum": 0.0446}, "y": {"datum": 0.04376}}},
   {"mark": {"type": "text", "text": "a\u00a0\u00a0=\u00a0\u00a03\u00a05\u00a00\u00a0\u00a0n\u00a0m", "align": "left", "baseline": "middle", "fontSize": 14}, "encoding": {"x": {"datum": 0.0446}, "y": {"datum": 0.03881}}},
   {"mark": {"type": "text", "text": "n", "align": "left", "baseline": "middle", "fontSize": 14}, "encoding": {"x": {"datum": 0.0446}, "y": {"datum": 0.03378}}},
   {"mark": {"type": "text", "text": "e", "align": "left", "baseline": "middle", "fontSize": 9, "dx": 13, "dy": 6}, "encoding": {"x": {"datum": 0.0446}, "y": {"datum": 0.03378}}},
   {"mark": {"type": "text", "text": "=\u00a0\u00a03\u00a0.\u00a00\u00a0x\u00a01\u00a00", "align": "left", "baseline": "middle", "fontSize": 14, "dx": 27}, "encoding": {"x": {"datum": 0.0446}, "y": {"datum": 0.03378}}},
   {"mark": {"type": "text", "text": "1\u00a05", "align": "left", "baseline": "middle", "fontSize": 9, "dx": 115, "dy": -6}, "encoding": {"x": {"datum": 0.0446}, "y": {"datum": 0.03378}}},
   {"mark": {"type": "text", "text": "m", "align": "left", "baseline": "middle", "fontSize": 14, "dx": 132}, "encoding": {"x": {"datum": 0.0446}, "y": {"datum": 0.03378}}},
   {"mark": {"type": "text", "text": "-\u00a02", "align": "left", "baseline": "middle", "fontSize": 9, "dx": 152, "dy": -6}, "encoding": {"x": {"datum": 0.0446}, "y": {"datum": 0.03378}}},
   {"mark": {"type": "text", "text": "ρ", "angle": 270, "align": "left", "baseline": "alphabetic", "fontSize": 15, "color": "#333"}, "encoding": {"x": {"datum": -0.1300}, "y": {"datum": 0.02153}}},
   {"mark": {"type": "text", "text": "xx", "angle": 270, "align": "left", "baseline": "alphabetic", "fontSize": 10, "dx": 9, "dy": 4, "color": "#333"}, "encoding": {"x": {"datum": -0.1300}, "y": {"datum": 0.02153}}},
   {"mark": {"type": "text", "text": "(KΩ)", "angle": 270, "align": "left", "baseline": "alphabetic", "fontSize": 15, "dx": 20, "color": "#333"}, "encoding": {"x": {"datum": -0.1300}, "y": {"datum": 0.02153}}}
  ]}
 ]
},
{
 "width": 542, "height": 297,
 "data": {"values": [{}]},
 "resolve": {"axis": {"x": "independent", "y": "independent"}},
 "layer": [
  {"mark": {"type": "rect", "fill": "#000"},
   "encoding": {
    "x": {"datum": 0.1125, "type": "quantitative", "scale": {"domain": [0, 1], "nice": false, "zero": false}, "axis": {"orient": "bottom", "values": [0.1, 0.3, 0.5, 0.7, 0.9], "tickCount": 50, "labels": false, "domain": false, "tickSize": 4, "title": null}},
    "x2": {"datum": 0.3893},
    "y": {"datum": 1.1018, "type": "quantitative", "scale": {"domain": [0, 1.2], "nice": false, "zero": false}, "axis": {"orient": "left", "values": [0.1, 0.3, 0.5, 0.7, 0.9, 1.1], "tickCount": 50, "labels": false, "domain": false, "tickSize": 5, "title": null}},
    "y2": {"datum": 0.9038}}},
  {"layer": [
   {"data": {"name": "c"},
    "mark": {"type": "line", "interpolate": "monotone", "strokeWidth": 1.6, "clip": true},
    "encoding": {
     "x": {"field": "B", "type": "quantitative", "scale": {"domain": [0, 1], "nice": false, "zero": false}, "axis": {"orient": "bottom", "values": [0, 0.2, 0.4, 0.6, 0.8, 1], "tickCount": 50, "format": ".1f", "labelExpr": "join(split(datum.label, ''), ' ')", "labelOverlap": false, "tickSize": 7, "labelPadding": 4, "title": "B ( T e s l a )", "titlePadding": 8}},
     "y": {"field": "r", "type": "quantitative", "scale": {"domain": [0, 1.2], "nice": false, "zero": false}, "axis": {"orient": "left", "values": [0, 0.2, 0.4, 0.6, 0.8, 1, 1.2], "tickCount": 50, "format": ".1f", "labelExpr": "join(split(datum.label, ''), ' ')", "labelOverlap": false, "tickSize": 9, "labelPadding": 9, "title": null}},
     "color": {"field": "T", "type": "nominal", "scale": {"domain": ["2K", "6K"], "range": ["#000000", "#ff0000"]}, "legend": null},
     "strokeDash": {"field": "T", "type": "nominal", "scale": {"domain": ["2K", "6K"], "range": [[1, 0], [8, 6]]}, "legend": null}}},
   {"mark": {"type": "rect", "fill": "#fff", "stroke": "#000", "strokeWidth": 1.3}, "encoding": {"x": {"datum": 0.1002}, "x2": {"datum": 0.3769}, "y": {"datum": 1.122}, "y2": {"datum": 0.924}}},
   {"mark": {"type": "rule", "color": "#000", "strokeWidth": 1.3}, "encoding": {"x": {"datum": 0.1273}, "x2": {"datum": 0.2356}, "y": {"datum": 1.0614}}},
   {"mark": {"type": "rule", "color": "#ff0000", "strokeWidth": 1.3, "strokeDash": [10, 9]}, "encoding": {"x": {"datum": 0.1273}, "x2": {"datum": 0.2246}, "y": {"datum": 0.9846}}},
   {"mark": {"type": "text", "text": "T\u00a0=\u00a02\u00a0K", "align": "left", "baseline": "middle", "fontSize": 14}, "encoding": {"x": {"datum": 0.2459}, "y": {"datum": 1.0614}}},
   {"mark": {"type": "text", "text": "T\u00a0=\u00a06\u00a0K", "align": "left", "baseline": "middle", "fontSize": 14}, "encoding": {"x": {"datum": 0.2459}, "y": {"datum": 0.9846}}},
   {"mark": {"type": "text", "text": "(\u00a0c\u00a0)", "align": "left", "baseline": "middle", "fontSize": 14, "fontWeight": "bold"}, "encoding": {"x": {"datum": 0.409}, "y": {"datum": 1.021}}},
   {"mark": {"type": "rect", "fill": "#fff", "stroke": "#333", "strokeWidth": 1.2}, "encoding": {"x": {"datum": 0.0707}, "x2": {"datum": 0.409}, "y": {"datum": 0.8566}, "y2": {"datum": 0.5455}}},
   {"mark": {"type": "text", "text": "V", "align": "left", "baseline": "middle", "fontSize": 14}, "encoding": {"x": {"datum": 0.0891}, "y": {"datum": 0.7879}}},
   {"mark": {"type": "text", "text": "o", "align": "left", "baseline": "middle", "fontSize": 9, "dx": 13, "dy": 6}, "encoding": {"x": {"datum": 0.0891}, "y": {"datum": 0.7879}}},
   {"mark": {"type": "text", "text": "=\u00a0\u00a00\u00a0.\u00a05\u00a0\u00a0m\u00a0e\u00a0V", "align": "left", "baseline": "middle", "fontSize": 14, "dx": 27}, "encoding": {"x": {"datum": 0.0891}, "y": {"datum": 0.7879}}},
   {"mark": {"type": "text", "text": "a\u00a0\u00a0=\u00a0\u00a03\u00a05\u00a00\u00a0\u00a0n\u00a0m", "align": "left", "baseline": "middle", "fontSize": 14}, "encoding": {"x": {"datum": 0.0891}, "y": {"datum": 0.7042}}},
   {"mark": {"type": "text", "text": "n", "align": "left", "baseline": "middle", "fontSize": 14}, "encoding": {"x": {"datum": 0.0891}, "y": {"datum": 0.6234}}},
   {"mark": {"type": "text", "text": "e", "align": "left", "baseline": "middle", "fontSize": 9, "dx": 13, "dy": 6}, "encoding": {"x": {"datum": 0.0891}, "y": {"datum": 0.6234}}},
   {"mark": {"type": "text", "text": "=\u00a0\u00a03\u00a0.\u00a00\u00a0x\u00a01\u00a00", "align": "left", "baseline": "middle", "fontSize": 14, "dx": 27}, "encoding": {"x": {"datum": 0.0891}, "y": {"datum": 0.6234}}},
   {"mark": {"type": "text", "text": "1\u00a05", "align": "left", "baseline": "middle", "fontSize": 9, "dx": 118, "dy": -6}, "encoding": {"x": {"datum": 0.0891}, "y": {"datum": 0.6234}}},
   {"mark": {"type": "text", "text": "m", "align": "left", "baseline": "middle", "fontSize": 14, "dx": 133}, "encoding": {"x": {"datum": 0.0891}, "y": {"datum": 0.6234}}},
   {"mark": {"type": "text", "text": "-\u00a02", "align": "left", "baseline": "middle", "fontSize": 9, "dx": 152, "dy": -6}, "encoding": {"x": {"datum": 0.0891}, "y": {"datum": 0.6234}}},
   {"mark": {"type": "text", "text": "ρ", "angle": 270, "align": "left", "baseline": "alphabetic", "fontSize": 15, "color": "#333"}, "encoding": {"x": {"datum": -0.1220}, "y": {"datum": 0.408}}},
   {"mark": {"type": "text", "text": "xy", "angle": 270, "align": "left", "baseline": "alphabetic", "fontSize": 10, "dx": 9, "dy": 4, "color": "#333"}, "encoding": {"x": {"datum": -0.1220}, "y": {"datum": 0.408}}},
   {"mark": {"type": "text", "text": "(KΩ)", "angle": 270, "align": "left", "baseline": "alphabetic", "fontSize": 15, "dx": 20, "color": "#333"}, "encoding": {"x": {"datum": -0.1220}, "y": {"datum": 0.408}}}
  ]}
 ]
}
]
}
